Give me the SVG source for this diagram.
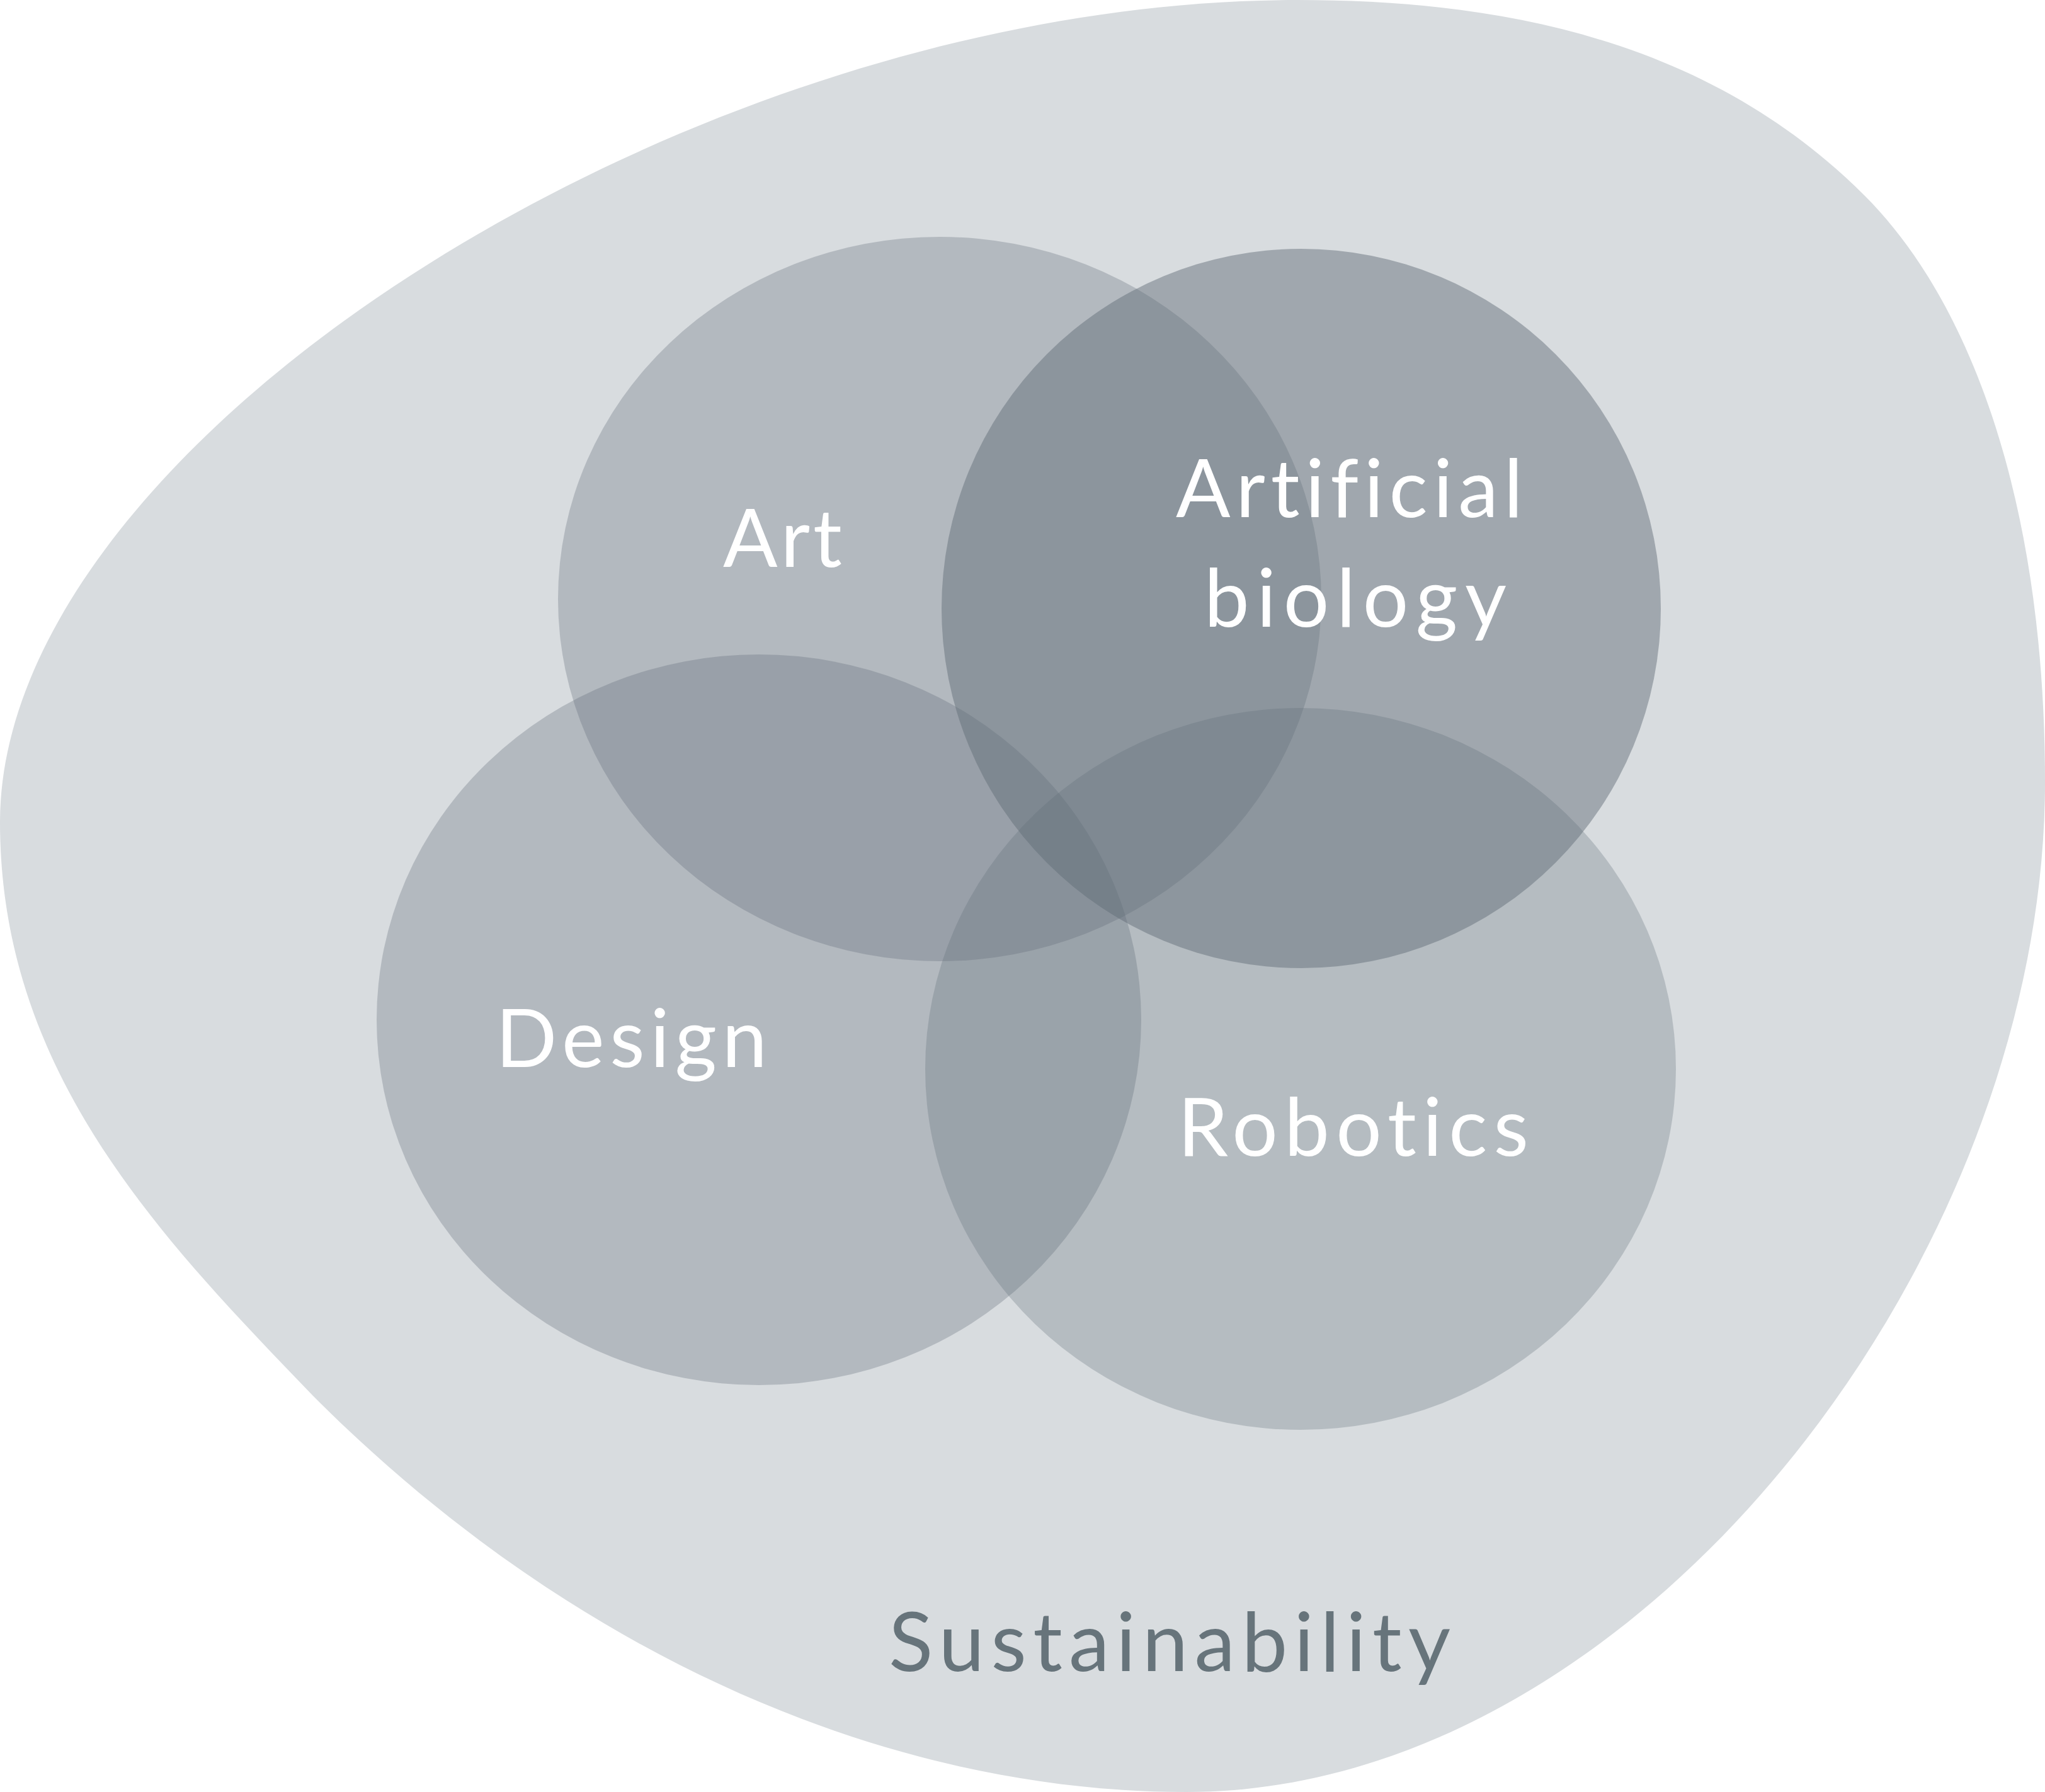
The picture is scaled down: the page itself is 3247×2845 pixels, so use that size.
<svg xmlns="http://www.w3.org/2000/svg" width="3247" height="2845" viewBox="0 0 3247 2845">
<style>
.set{fill:#606C76}
text{font-variant-ligatures:none;font-feature-settings:"liga" 0,"clig" 0}
.lbl{font-family:Lato,"Open Sans","Liberation Sans",sans-serif;font-size:128px;fill:#ffffff}
.outer{font-family:Lato,"Open Sans","Liberation Sans",sans-serif;font-size:130px;fill:#67747B}
</style>
<rect width="3247" height="2845" fill="#ffffff"/>
<g id="sustainability">
<path d="M2060 0 C1100 0 0 700 0 1305 C0 1700 250 1960 497 2216 C900 2620 1400 2845 1884 2845 C2600 2845 3247 2000 3247 1242 C3247 800 3130 480 2961 311 C2720 70 2400 0 2060 0 Z" fill="#D8DCDF"/>
<text class="outer" x="1411" y="2653" textLength="892" lengthAdjust="spacing">Sustainability</text>
</g>
<g id="art">
<ellipse class="set" cx="1492" cy="951" rx="606" ry="575" fill-opacity="0.31"/>
</g>
<g id="artificial-biology">
<ellipse class="set" cx="2066" cy="966" rx="571" ry="571" fill-opacity="0.465"/>
</g>
<g id="design">
<ellipse class="set" cx="1205" cy="1619" rx="607" ry="580" fill-opacity="0.31"/>
</g>
<g id="robotics">
<ellipse class="set" cx="2065" cy="1697" rx="596" ry="573" fill-opacity="0.285"/>
</g>
<g id="labels">
<text class="lbl" x="1148" y="900" textLength="189" lengthAdjust="spacing">Art</text>
<text class="lbl" x="1867" y="821" textLength="551" lengthAdjust="spacing">Artificial</text>
<text class="lbl" x="1912" y="995" textLength="480" lengthAdjust="spacing">biology</text>
<text class="lbl" x="787" y="1694" textLength="431" lengthAdjust="spacing">Design</text>
<text class="lbl" x="1870" y="1835" textLength="557" lengthAdjust="spacing">Robotics</text>
</g>
<g id="connectors"/>
</svg>
